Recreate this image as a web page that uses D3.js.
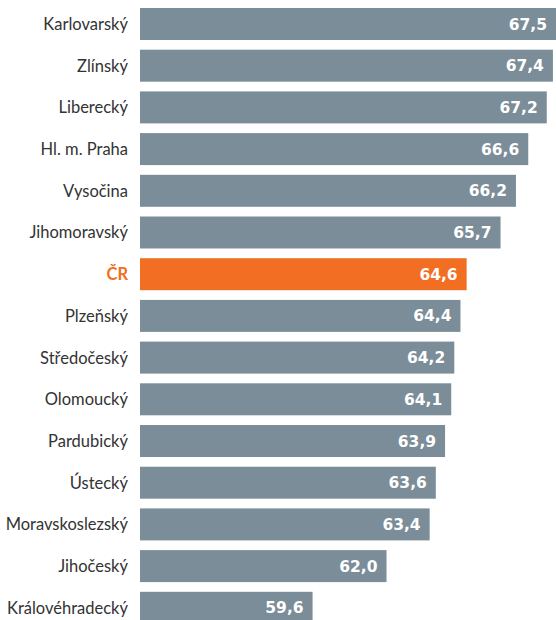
<!DOCTYPE html>
<html>
<head>
<meta charset="utf-8">
<script src="https://cdn.jsdelivr.net/npm/d3@7"></script>
<style>
  body { margin: 0; background: #fff; }
  svg { display: block; }
</style>
</head>
<body>
<div id="chart"></div>
<script>
// Data
const regions = ['Karlovarský', 'Zlínský', 'Liberecký', 'Hl. m. Praha', 'Vysočina', 'Jihomoravský', 'ČR',
                 'Plzeňský', 'Středočeský', 'Olomoucký', 'Pardubický', 'Ústecký', 'Moravskoslezský',
                 'Jihočeský', 'Královéhradecký'];
const values = [67.5, 67.4, 67.2, 66.6, 66.2, 65.7, 64.6, 64.4, 64.2, 64.1, 63.9, 63.6, 63.4, 62.0, 59.6];
const highlight = 'ČR';

const width = 556, height = 620;
const data = regions.map((r, i) => ({ region: r, value: values[i] }));

const svg = d3.select('#chart').append('svg').attr('width', width).attr('height', height);

// Scales
const xScale = d3.scaleLinear().domain([54, 67.5]).range([140, 556]);
const yScale = d3.scaleBand().domain(regions).range([8, 623.8]).paddingInner(0.233).paddingOuter(0);

const fmt = v => d3.format('.1f')(v).replace('.', ',');

// Bars
svg.append('g').selectAll('rect').data(data)
    .join('rect')
    .attr('x', xScale(54))
    .attr('y', d => yScale(d.region))
    .attr('width', d => xScale(d.value) - xScale(54))
    .attr('height', yScale.bandwidth())
    .attr('fill', d => d.region === highlight ? '#f26e22' : '#7a8d99');

// Value labels
svg.append('g').selectAll('text').data(data)
    .join('text')
    .attr('x', d => xScale(d.value) - 9)
    .attr('y', d => yScale(d.region) + yScale.bandwidth() / 2)
    .attr('dy', '0.36em')
    .attr('text-anchor', 'end')
    .attr('font-family', '"DejaVu Sans", sans-serif')
    .attr('font-weight', 'bold')
    .attr('font-size', 15.5)
    .attr('fill', '#fff')
    .text(d => fmt(d.value));

// Category labels
svg.append('g').selectAll('text').data(data)
    .join('text')
    .attr('x', 128)
    .attr('y', d => yScale(d.region) + yScale.bandwidth() / 2)
    .attr('dy', '0.36em')
    .attr('text-anchor', 'end')
    .attr('font-family', 'Lato, sans-serif')
    .attr('font-size', 16.5)
    .attr('font-weight', d => d.region === highlight ? 'bold' : 'normal')
    .attr('fill', d => d.region === highlight ? '#f26e22' : '#333')
    .text(d => d.region);
</script>
</body>
</html>
